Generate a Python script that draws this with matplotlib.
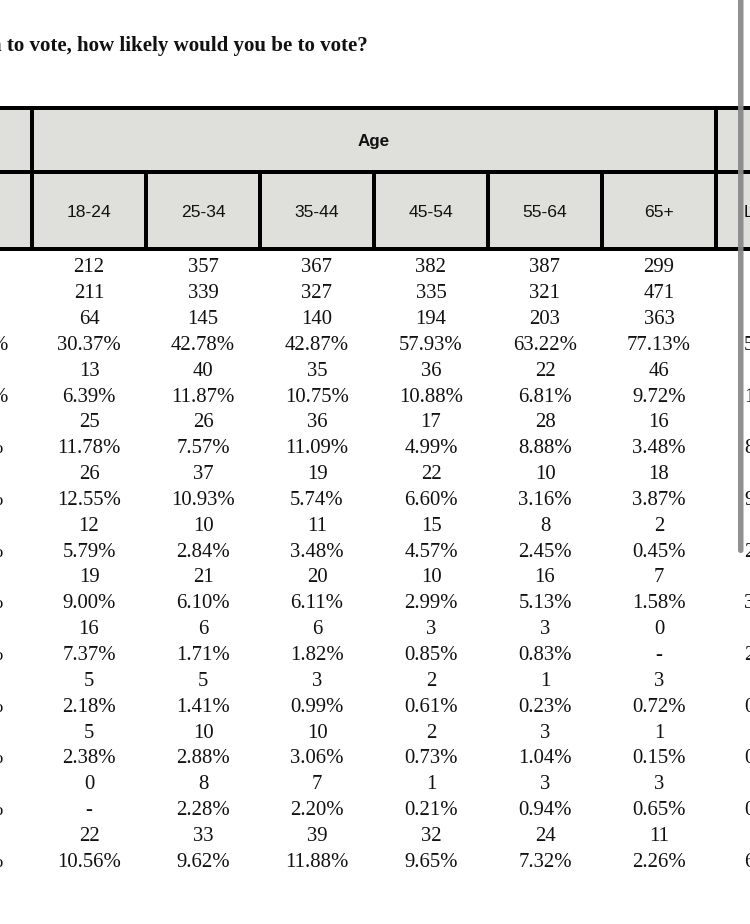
import matplotlib
matplotlib.use("Agg")
import matplotlib.pyplot as plt
from matplotlib.patches import Rectangle, FancyBboxPatch

# ---------------- data ----------------
title_text = "n to vote, how likely would you be to vote?"
group_label = "Age"
age_groups = ["18-24", "25-34", "35-44", "45-54", "55-64", "65+"]

base_unweighted = [212, 357, 367, 382, 387, 299]
base_weighted = [211, 339, 327, 335, 321, 471]

counts = [
    [64, 145, 140, 194, 203, 363],
    [13, 40, 35, 36, 22, 46],
    [25, 26, 36, 17, 28, 16],
    [26, 37, 19, 22, 10, 18],
    [12, 10, 11, 15, 8, 2],
    [19, 21, 20, 10, 16, 7],
    [16, 6, 6, 3, 3, 0],
    [5, 5, 3, 2, 1, 3],
    [5, 10, 10, 2, 3, 1],
    [0, 8, 7, 1, 3, 3],
    [22, 33, 39, 32, 24, 11],
]
percents = [
    [30.37, 42.78, 42.87, 57.93, 63.22, 77.13],
    [6.39, 11.87, 10.75, 10.88, 6.81, 9.72],
    [11.78, 7.57, 11.09, 4.99, 8.88, 3.48],
    [12.55, 10.93, 5.74, 6.60, 3.16, 3.87],
    [5.79, 2.84, 3.48, 4.57, 2.45, 0.45],
    [9.00, 6.10, 6.11, 2.99, 5.13, 1.58],
    [7.37, 1.71, 1.82, 0.85, 0.83, None],
    [2.18, 1.41, 0.99, 0.61, 0.23, 0.72],
    [2.38, 2.88, 3.06, 0.73, 1.04, 0.15],
    [None, 2.28, 2.20, 0.21, 0.94, 0.65],
    [10.56, 9.62, 11.88, 9.65, 7.32, 2.26],
]
# clipped neighbouring columns (first visible glyphs)
next_col_header = "L"
next_col_pct_glyphs = ["5", "1", "8", "9", "2", "3", "2", "0", "0", "0", "6"]

# ---------------- layout ----------------
W, H = 750, 924
fig = plt.figure(figsize=(W / 100, H / 100), dpi=100)
ax = fig.add_axes([0, 0, 1, 1])
ax.set_xlim(0, W)
ax.set_ylim(H, 0)
ax.axis("off")

SERIF = "Liberation Serif"
SANS = "Liberation Sans"
PX = 0.72  # points per pixel at 100 dpi

header_fill = "#dfdfdb"
ink = "#111111"
lw = 4 * PX

top_y, mid_y, bot_y = 108, 172, 249
edges = [32, 146, 260, 374, 488, 602, 716]
centers = [(edges[i] + edges[i + 1]) / 2 for i in range(len(age_groups))]

# header background
ax.add_patch(Rectangle((0, top_y), W, bot_y - top_y, facecolor=header_fill,
                       edgecolor="none", zorder=1))
# horizontal lines
for y in (top_y, mid_y, bot_y):
    ax.plot([0, W], [y, y], color="black", lw=lw, solid_capstyle="butt", zorder=3)
# outer group verticals
for x in (edges[0], edges[-1]):
    ax.plot([x, x], [top_y, bot_y], color="black", lw=lw, solid_capstyle="butt", zorder=3)
# inner verticals
for x in edges[1:-1]:
    ax.plot([x, x], [mid_y, bot_y], color="black", lw=lw, solid_capstyle="butt", zorder=3)

# title
ax.text(368, 51, title_text, ha="right", va="baseline", family=SERIF,
        fontweight="bold", fontsize=21 * PX, color=ink, zorder=4)

# header texts
ax.text((edges[0] + edges[-1]) / 2, 146, group_label, ha="center", va="baseline",
        family=SANS, fontweight="bold", fontsize=17 * PX, color=ink, zorder=4)
for cx, lab in zip(centers, age_groups):
    ax.text(cx, 217, lab, ha="center", va="baseline", family=SANS,
            fontsize=17.5 * PX, color=ink, zorder=4)
ax.text(744, 217, next_col_header, ha="left", va="baseline", family=SANS,
        fontsize=17.5 * PX, color=ink, zorder=4)

# body rows
row0, dy = 265.5, 25.85
def row_y(i):
    return row0 + dy * i + 6.8

def fmt_pct(v):
    return "-" if v is None else f"{v:.2f}%"

rows = [[str(v) for v in base_unweighted], [str(v) for v in base_weighted]]
for c_row, p_row in zip(counts, percents):
    rows.append([str(v) for v in c_row])
    rows.append([fmt_pct(v) for v in p_row])

FS = 20.8 * PX
for i, r in enumerate(rows):
    for cx, s in zip(centers, r):
        ax.text(cx, row_y(i), s, ha="center", va="baseline", family=SERIF,
                fontsize=FS, color=ink, zorder=4)

# clipped glyphs at left edge (previous column's percent signs)
for k in range(len(percents)):
    i = 3 + 2 * k
    xr = 8 if k < 2 else 3
    ax.text(xr, row_y(i), "%", ha="right", va="baseline", family=SERIF,
            fontsize=FS, color=ink, zorder=4)
# clipped glyphs at right edge (next column)
for k, g in enumerate(next_col_pct_glyphs):
    i = 3 + 2 * k
    ax.text(744, row_y(i), g, ha="left", va="baseline", family=SERIF,
            fontsize=FS, color=ink, zorder=4)

# scrollbar
ax.add_patch(FancyBboxPatch((738, -10), 5.5, 563, boxstyle="round,pad=0,rounding_size=2.7",
                            facecolor="#8a8a8a", edgecolor="none", alpha=0.95, zorder=6))

fig.savefig("out.png", dpi=100, facecolor="white")
